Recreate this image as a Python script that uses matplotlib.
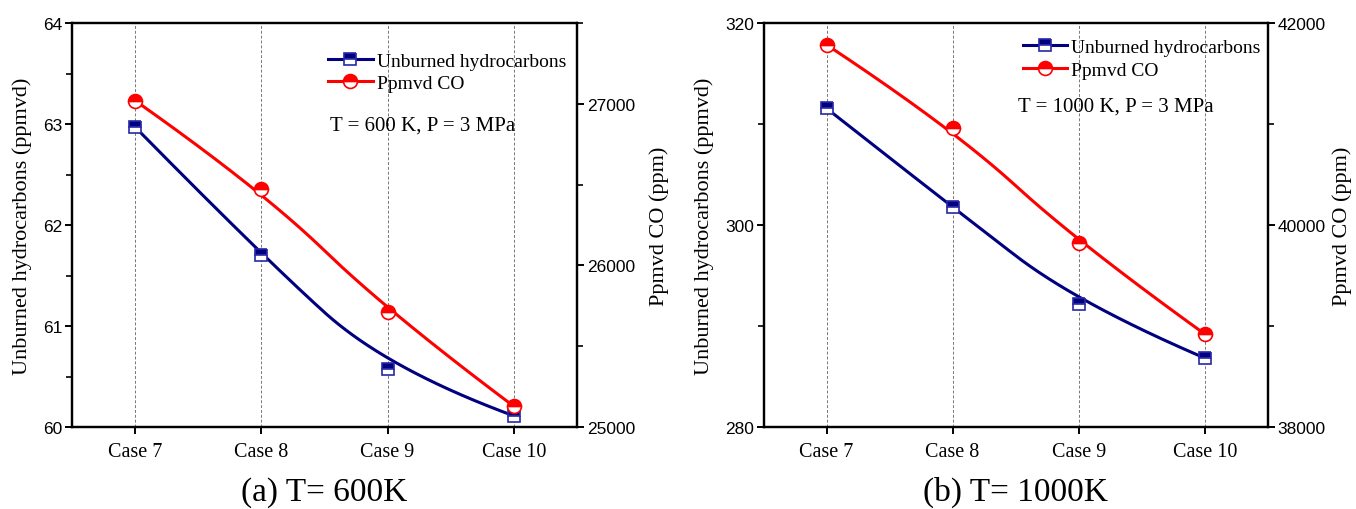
import numpy as np
import matplotlib
matplotlib.use("Agg")
import matplotlib.pyplot as plt
from matplotlib.ticker import MultipleLocator

plt.rcParams['font.family'] = ['Liberation Serif', 'DejaVu Serif']

cases = ['Case 7', 'Case 8', 'Case 9', 'Case 10']

# (a) T = 600 K
hc_600 = [62.97, 61.70, 60.57, 60.11]
co_600 = [27020, 26470, 25713, 25128]

# (b) T = 1000 K
hc_1000 = [311.55, 301.75, 292.18, 286.83]
co_1000 = [41785, 40960, 39819, 38921]

NAVY = '#000080'
RED = '#ff0000'
TICK_FONT = 'Liberation Sans'


def bspline(ys, k=2, num=300):
    # clamped uniform B-spline through the data as control points
    ys = np.asarray(ys, float)
    xs = np.arange(len(ys), dtype=float)
    n = len(ys)
    t = np.concatenate([np.zeros(k), np.linspace(0, 1, n - k + 1), np.ones(k)])
    u = np.linspace(0, 1, num)

    def basis(i, p):
        if p == 0:
            b = ((t[i] <= u) & (u < t[i + 1])).astype(float)
            if t[i + 1] == 1.0 and t[i] < 1.0:
                b[u == 1.0] = 1.0
            return b
        out = np.zeros_like(u)
        d1 = t[i + p] - t[i]
        d2 = t[i + p + 1] - t[i + 1]
        if d1 > 0:
            out += (u - t[i]) / d1 * basis(i, p - 1)
        if d2 > 0:
            out += (t[i + p + 1] - u) / d2 * basis(i + 1, p - 1)
        return out

    B = np.array([basis(i, k) for i in range(n)])
    return B.T @ xs, B.T @ ys


def panel(rect, hc, co, hc_lim, hc_major, co_lim, co_major, note, note_xy,
          leg_xy, title, rpad):
    ax = fig.add_axes(rect)
    ax2 = ax.twinx()
    x = np.arange(len(cases))

    bx, by = bspline(hc)
    ax.plot(bx, by, color=NAVY, lw=2.2, zorder=3)
    ax.plot(x, hc, ls='none', marker='s', ms=9, fillstyle='top', color=NAVY,
            markerfacecoloralt='white', mec='#2828a8', mew=1.2, zorder=4)
    cx, cy = bspline(co)
    ax2.plot(cx, cy, color=RED, lw=2.2, zorder=3)
    ax2.plot(x, co, ls='none', marker='o', ms=10, fillstyle='top', color=RED,
             markerfacecoloralt='white', mec=RED, mew=1.2, zorder=4)

    ax.set_xlim(-0.5, len(cases) - 0.5)
    ax.set_xticks(x)
    ax.set_xticklabels(cases, fontsize=14.5)
    ax.grid(axis='x', ls='--', lw=0.7, color='#777777', dashes=(3, 2))
    ax.set_axisbelow(True)

    ax.set_ylim(*hc_lim)
    ax.yaxis.set_major_locator(MultipleLocator(hc_major))
    ax.yaxis.set_minor_locator(MultipleLocator(hc_major / 2))
    ax2.set_ylim(*co_lim)
    ax2.yaxis.set_major_locator(MultipleLocator(co_major))
    ax2.yaxis.set_minor_locator(MultipleLocator(co_major / 2))

    for a in (ax, ax2):
        for s in a.spines.values():
            s.set_linewidth(1.6)
        a.tick_params(which='major', length=5, width=1.4, direction='out')
        a.tick_params(which='minor', length=4, width=1.2, direction='out')
        a.tick_params(axis='y', pad=2)
        for lab in a.get_yticklabels():
            lab.set_fontfamily(TICK_FONT)
            lab.set_fontsize(12.5)
    ax.tick_params(axis='x', pad=6)

    ax.set_ylabel('Unburned hydrocarbons (ppmvd)', fontsize=16, labelpad=8)
    ax2.set_ylabel('Ppmvd CO (ppm)', fontsize=16, labelpad=rpad)

    ax2.text(note_xy[0], note_xy[1], note, transform=ax2.transAxes,
             fontsize=15, va='center', ha='left')

    h1 = plt.Line2D([], [], color=NAVY, lw=2.2, marker='s', ms=9, fillstyle='top',
                    markerfacecoloralt='white', mec='#2828a8', mew=1.2)
    h2 = plt.Line2D([], [], color=RED, lw=2.2, marker='o', ms=10, fillstyle='top',
                    markerfacecoloralt='white', mec=RED, mew=1.2)
    ax2.legend([h1, h2], ['Unburned hydrocarbons', 'Ppmvd CO'], loc='upper left',
               bbox_to_anchor=leg_xy, frameon=False, fontsize=14, borderpad=0,
               borderaxespad=0, handlelength=2.3, handletextpad=0.2,
               labelspacing=0.25)

    fig.text(rect[0] + rect[2] / 2, 0.035, title, ha='center', va='center',
             fontsize=24)


fig = plt.figure(figsize=(13.56, 5.10), dpi=100)

panel([0.0531, 0.1608, 0.3724, 0.792], hc_600, co_600, (60, 64), 1,
      (25000, 27500), 1000, 'T = 600 K, P = 3 MPa', (0.511, 0.748),
      (0.507, 0.928), '(a) T= 600K', 10)
panel([0.5631, 0.1608, 0.3718, 0.792], hc_1000, co_1000, (280, 320), 20,
      (38000, 42000), 2000, 'T = 1000 K, P = 3 MPa', (0.505, 0.795),
      (0.514, 0.962), '(b) T= 1000K', 5)

fig.savefig('out.png', dpi=100)
